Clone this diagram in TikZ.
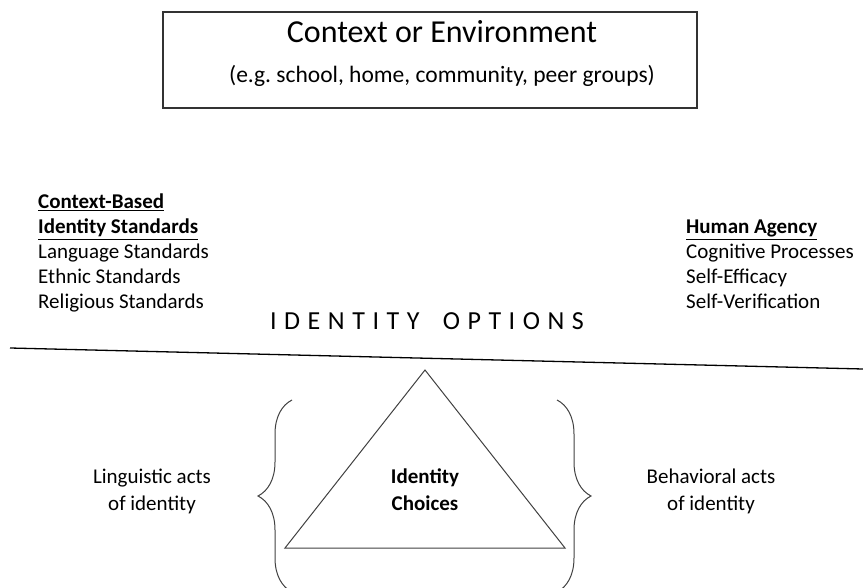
\documentclass[tikz,border=0pt]{standalone}
\usepackage{fontspec}
\setmainfont{Carlito}
\usetikzlibrary{decorations.pathreplacing}
\frenchspacing

\begin{document}
\begin{tikzpicture}[x=1pt,y=-1pt,
  txt/.style={font=\fontsize{21}{27}\selectfont, inner sep=0pt},
  lst/.style={txt, anchor=base west},
  brc/.style={decorate, decoration={brace, amplitude=34pt}, line width=1pt, draw=black!75}]
\useasboundingbox (0,0) rectangle (863,588);
% context box
\draw[line width=1.4pt, draw=black!80] (163,12) rectangle (697,108);
\path (442,43) node[txt, font=\fontsize{32}{36}\selectfont, anchor=base] (context) {Context or Environment};
\path (442,83) node[txt, font=\fontsize{23.5}{27}\selectfont, anchor=base] (examples) {(e.g. school, home, community, peer groups)};
% standards on the left
\path (38,209) node[lst] (stdA) {\underline{\textbf{Context-Based}}};
\path (38,234) node[lst] (stdB) {\underline{\textbf{Identity Standards}}};
\foreach \t [count=\i] in {Language Standards, Ethnic Standards, Religious Standards}
  \path (38,{234+25*\i}) node[lst] (std\i) {\t};
% agency on the right
\path (686,234) node[lst] (agency) {\underline{\textbf{Human Agency}}};
\foreach \t [count=\i] in {Cognitive Processes, Self-Efficacy, Self-Verification}
  \path (686,{234+25*\i}) node[lst] (agency\i) {\t};
\path (427,330) node[txt, anchor=base, font={\fontsize{26}{30}\selectfont\addfontfeature{LetterSpace=29}}] (options) {IDENTITY\hspace{10pt} OPTIONS};
\draw[line width=1.3pt] (10,348) -- (863,369);
% choices
\draw[line width=1pt, draw=black!75] (425,370) -- (565,548) -- (285,548) -- cycle;
\path (425,490) node[txt, align=center, font=\fontsize{21}{27}\selectfont\bfseries] (choices) {Identity\\Choices};
\draw[brc] (292,592) -- (292,400);
\draw[brc] (557,400) -- (557,592);
\path (152,491) node[txt, align=center] (ling) {Linguistic acts\\of identity};
\path (711,491) node[txt, align=center] (behav) {Behavioral acts\\of identity};
\end{tikzpicture}
\end{document}
